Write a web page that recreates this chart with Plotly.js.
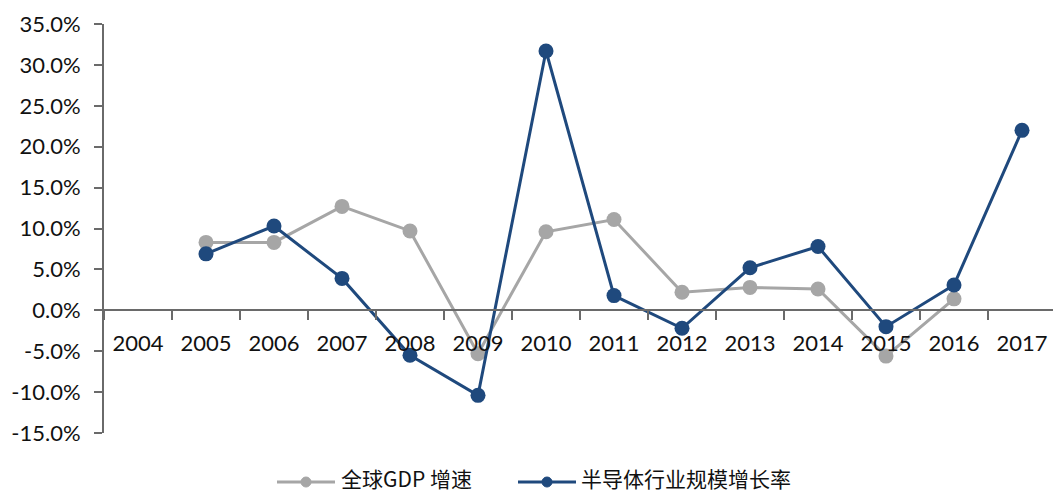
<!DOCTYPE html>
<html>
<head>
<meta charset="utf-8">
<script src="https://cdn.plot.ly/plotly-3.0.1.min.js"></script>
<style>html,body{margin:0;padding:0;background:#fff;}#chart{width:1053px;height:494px;}</style>
</head>
<body>
<div id="chart"></div>
<script>
var years = ["2004","2005","2006","2007","2008","2009","2010","2011","2012","2013","2014","2015","2016","2017"];
var gdpGrowth = [null, 8.3, 8.3, 12.7, 9.7, -5.3, 9.6, 11.1, 2.2, 2.8, 2.6, -5.6, 1.4, null];
var semiGrowth = [null, 6.9, 10.3, 3.9, -5.5, -10.4, 31.7, 1.8, -2.2, 5.2, 7.8, -2.0, 3.1, 22.0];
var seriesNames = ["全球GDP 增速", "半导体行业规模增长率"];
var yTickVals = [-15, -10, -5, 0, 5, 10, 15, 20, 25, 30, 35];
var yTickText = ["-15.0%", "-10.0%", "-5.0%", "0.0%", "5.0%", "10.0%", "15.0%", "20.0%", "25.0%", "30.0%", "35.0%"];

var W = 1053, H = 494, ML = 104, MR = 0, MT = 24, MB = 61;
var PW = W - ML - MR, PH = H - MT - MB;
function px(x) { return (x - ML) / PW; }
function py(y) { return (H - MB - y) / PH; }

var grey = "#A6A6A6", blue = "#1F497D", axisCol = "#6a6a6a";

var traces = [
  {x: years, y: gdpGrowth, name: seriesNames[0], type: "scatter", mode: "lines+markers",
   line: {color: grey, width: 3}, marker: {color: grey, size: 15}, cliponaxis: false, connectgaps: false},
  {x: years, y: semiGrowth, name: seriesNames[1], type: "scatter", mode: "lines+markers",
   line: {color: blue, width: 3}, marker: {color: blue, size: 15}, cliponaxis: false, connectgaps: false}
];

var legY = 482, legTextY = 478;
var shapes = [
  {type: "line", xref: "paper", yref: "paper", x0: px(277), x1: px(335), y0: py(legY), y1: py(legY), line: {color: grey, width: 3}},
  {type: "circle", xref: "paper", yref: "paper", x0: px(301), x1: px(311), y0: py(legY + 5), y1: py(legY - 5), fillcolor: grey, line: {color: grey, width: 1}},
  {type: "line", xref: "paper", yref: "paper", x0: px(518), x1: px(576), y0: py(legY), y1: py(legY), line: {color: blue, width: 3}},
  {type: "circle", xref: "paper", yref: "paper", x0: px(542), x1: px(552), y0: py(legY + 5), y1: py(legY - 5), fillcolor: blue, line: {color: blue, width: 1}}
];
var legFont = {family: "Noto Sans CJK SC", size: 21, color: "#111"};
var annotations = [
  {xref: "paper", yref: "paper", x: px(340), y: py(legTextY), xanchor: "left", yanchor: "middle", showarrow: false, text: seriesNames[0], font: legFont, borderpad: 0},
  {xref: "paper", yref: "paper", x: px(580), y: py(legTextY), xanchor: "left", yanchor: "middle", showarrow: false, text: seriesNames[1], font: legFont, borderpad: 0}
];

var layout = {
  width: W, height: H,
  margin: {l: ML, r: MR, t: MT, b: MB, pad: 0},
  paper_bgcolor: "#fff", plot_bgcolor: "#fff",
  showlegend: false,
  font: {family: "Lato, 'Liberation Sans', sans-serif", size: 22, color: "#111"},
  xaxis: {
    type: "category", range: [-0.5, (W - ML) / 68 - 0.5],
    anchor: "free", position: 15 / 50,
    showline: true, linecolor: axisCol, linewidth: 2,
    ticks: "outside", tickson: "boundaries", ticklen: 9, tickwidth: 2, tickcolor: axisCol,
    showgrid: false, zeroline: false, fixedrange: true,
    ticklabelstandoff: 13,
    tickfont: {family: "Lato", size: 22, color: "#111"}
  },
  yaxis: {
    range: [-15, 35], tickmode: "array", tickvals: yTickVals, ticktext: yTickText,
    showline: true, linecolor: axisCol, linewidth: 2,
    ticks: "outside", ticklen: 8, tickwidth: 2, tickcolor: axisCol,
    showgrid: false, zeroline: false, fixedrange: true,
    ticklabelstandoff: 9,
    tickfont: {family: "Lato", size: 22, color: "#111"}
  },
  shapes: shapes,
  annotations: annotations
};

Plotly.newPlot("chart", traces, layout, {staticPlot: true, displayModeBar: false});
</script>
</body>
</html>
